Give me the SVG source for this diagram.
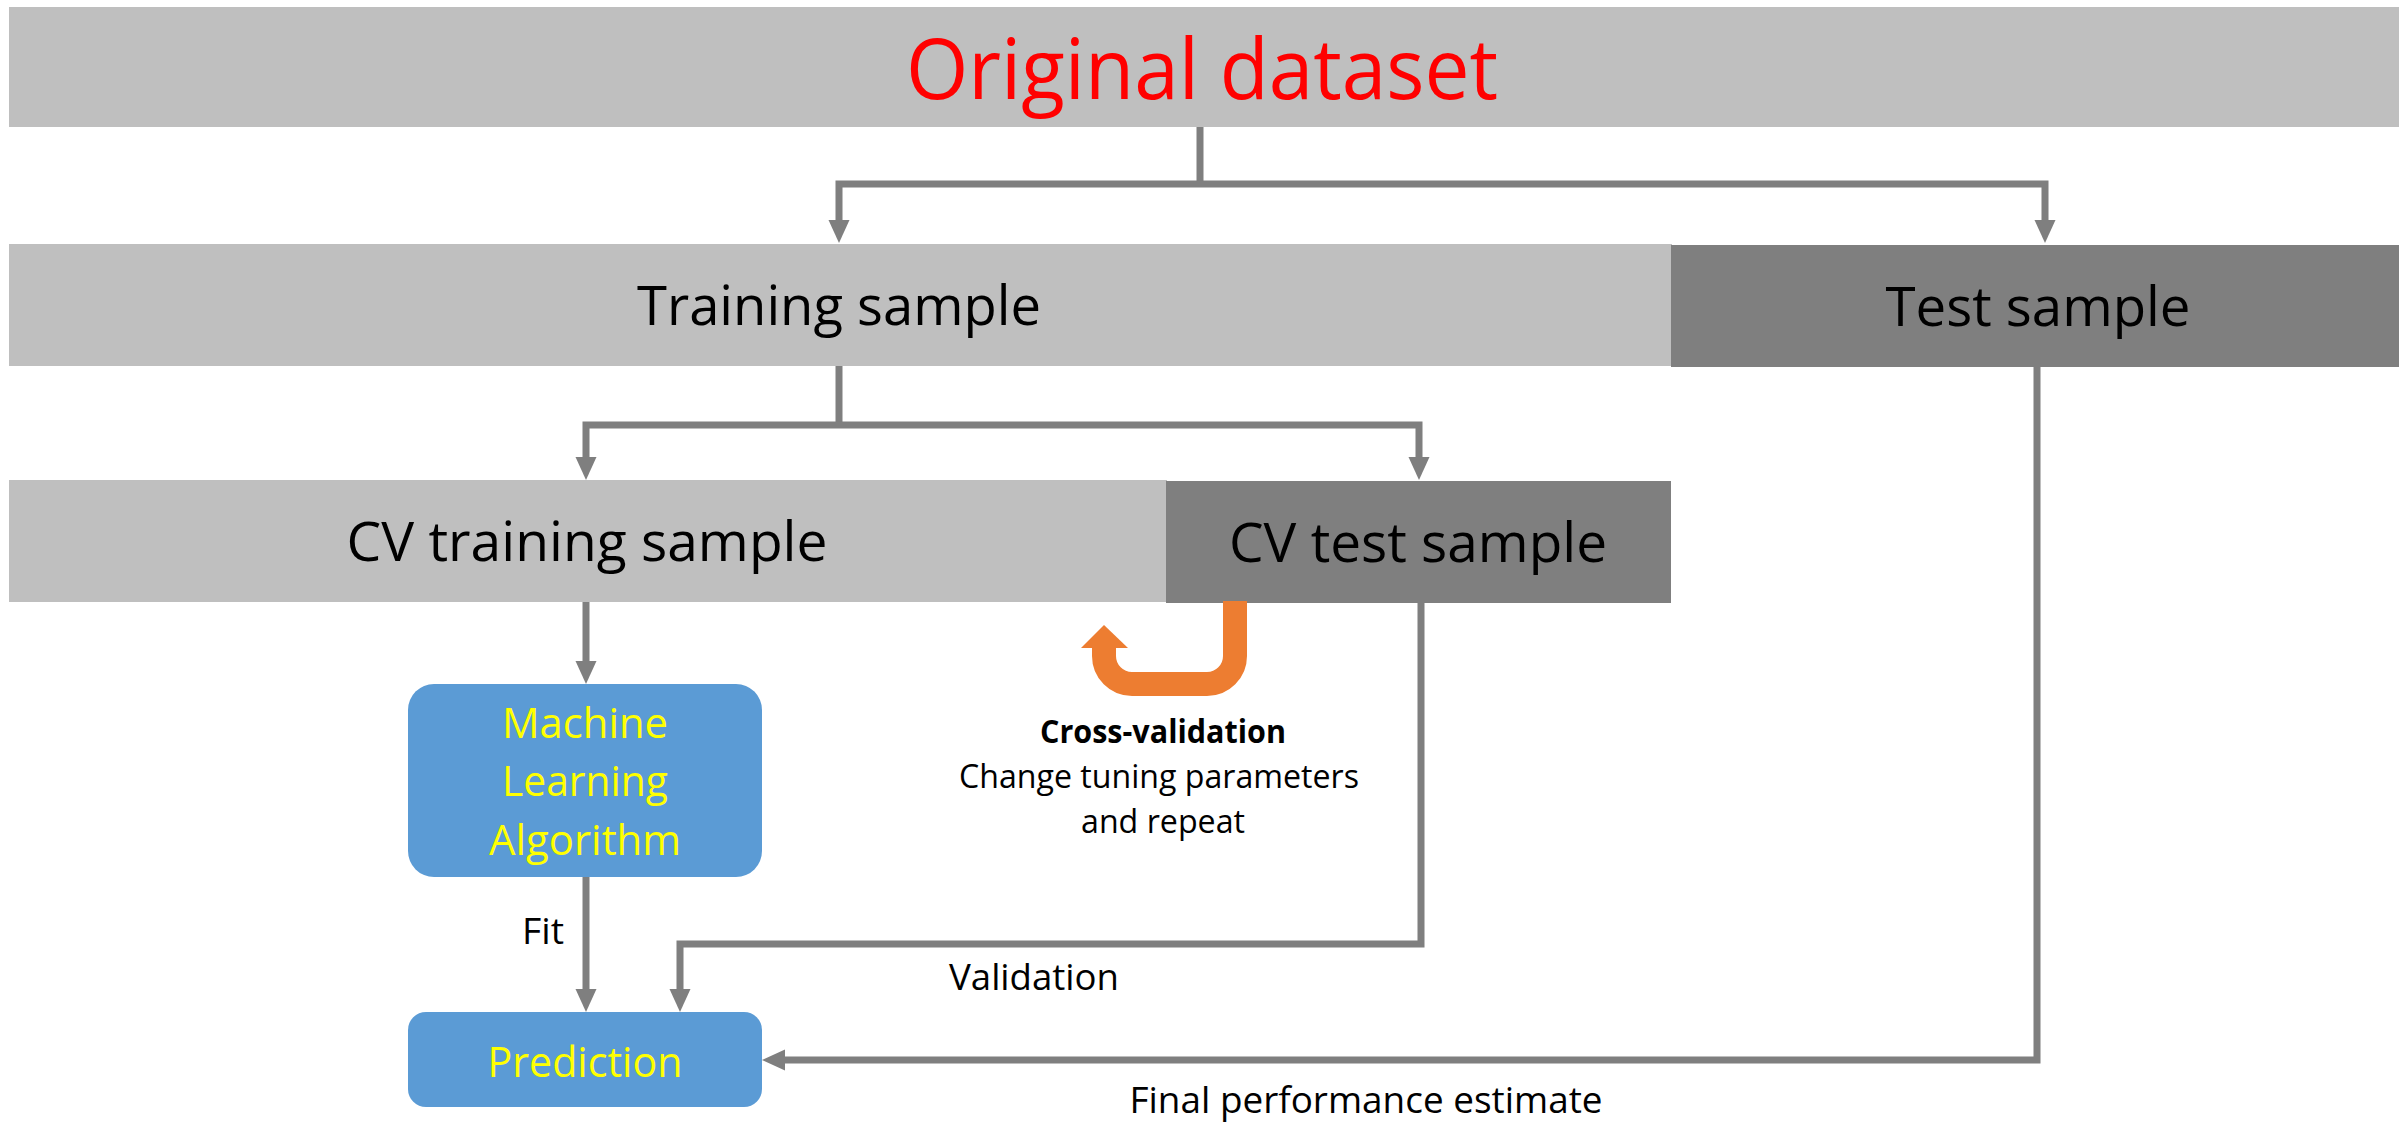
<svg xmlns="http://www.w3.org/2000/svg" width="2407" height="1122" viewBox="0 0 2407 1122">
<style>
  text { font-family: "Open Sans", "Noto Sans", "Liberation Sans", sans-serif; text-anchor: middle; }
  .light { fill: #BFBFBF; }
  .dark { fill: #7F7F7F; }
  .blue { fill: #5B9BD5; }
  .big { font-size: 55px; fill: #000000; }
  .ml { font-size: 42px; fill: #FFFF00; }
  .lbl { font-size: 36px; fill: #000000; }
  .cv { font-size: 32px; fill: #000000; }
  .conn { fill: none; stroke: #7F7F7F; stroke-width: 7; stroke-linejoin: miter; }
</style>
<defs>
  <marker id="arr" markerUnits="userSpaceOnUse" markerWidth="24" markerHeight="22" refX="13" refY="10.5" orient="auto-start-reverse" viewBox="0 0 24 22">
    <path d="M0,0 L23,10.5 L0,21 z" fill="#7F7F7F"/>
  </marker>
</defs>
<rect width="2407" height="1122" fill="#FFFFFF"/>

<g id="original-dataset">
  <rect class="light" x="9" y="7" width="2390" height="120"/>
  <text x="1202" y="99" font-size="84" fill="#FF0000" textLength="592" lengthAdjust="spacingAndGlyphs">Original dataset</text>
</g>

<g id="training-sample">
  <rect class="light" x="9" y="244" width="1663" height="122"/>
  <text class="big" x="839" y="325" textLength="404" lengthAdjust="spacingAndGlyphs">Training sample</text>
</g>

<g id="test-sample">
  <rect class="dark" x="1671" y="245" width="728" height="122"/>
  <text class="big" x="2038" y="326" textLength="305" lengthAdjust="spacingAndGlyphs">Test sample</text>
</g>

<g id="cv-training-sample">
  <rect class="light" x="9" y="480" width="1158" height="122"/>
  <text class="big" x="587" y="561" textLength="481" lengthAdjust="spacingAndGlyphs">CV training sample</text>
</g>

<g id="cv-test-sample">
  <rect class="dark" x="1166" y="481" width="505" height="122"/>
  <text class="big" x="1418" y="562" textLength="378" lengthAdjust="spacingAndGlyphs">CV test sample</text>
</g>

<g id="ml-algorithm">
  <rect class="blue" x="408" y="684" width="354" height="193" rx="26" ry="26"/>
  <text class="ml" x="585" y="738" textLength="166" lengthAdjust="spacingAndGlyphs">Machine</text>
  <text class="ml" x="585" y="796" textLength="166" lengthAdjust="spacingAndGlyphs">Learning</text>
  <text class="ml" x="585" y="855" textLength="192" lengthAdjust="spacingAndGlyphs">Algorithm</text>
</g>

<g id="prediction">
  <rect class="blue" x="408" y="1012" width="354" height="95" rx="18" ry="18"/>
  <text class="ml" x="585" y="1077" textLength="195" lengthAdjust="spacingAndGlyphs">Prediction</text>
</g>

<g id="cross-validation">
  <path d="M1235 601 V656 A28 28 0 0 1 1207 684 H1132 A28 28 0 0 1 1104 656 V646" fill="none" stroke="#ED7D31" stroke-width="24"/>
  <polygon points="1081,648 1128,648 1104,625" fill="#ED7D31"/>
  <text class="cv" x="1163" y="743" font-weight="bold" textLength="246" lengthAdjust="spacingAndGlyphs">Cross-validation</text>
  <text class="cv" x="1159" y="788" textLength="400" lengthAdjust="spacingAndGlyphs">Change tuning parameters</text>
  <text class="cv" x="1163" y="833" textLength="164" lengthAdjust="spacingAndGlyphs">and repeat</text>
</g>

<g id="connectors">
  <path class="conn" d="M1200 127 V184"/>
  <path class="conn" d="M839 233 V184 H2045 V233" marker-start="url(#arr)" marker-end="url(#arr)"/>
  <path class="conn" d="M839 366 V425"/>
  <path class="conn" d="M586 470 V425 H1419 V470" marker-start="url(#arr)" marker-end="url(#arr)"/>
  <path class="conn" d="M586 602 V674" marker-end="url(#arr)"/>
  <path class="conn" d="M586 877 V1002" marker-end="url(#arr)"/>
  <path class="conn" d="M1421 603 V944 H680 V1002" marker-end="url(#arr)"/>
  <path class="conn" d="M2037 367 V1060 H772" marker-end="url(#arr)"/>
  <text class="lbl" x="543" y="944" textLength="42" lengthAdjust="spacingAndGlyphs">Fit</text>
  <text class="lbl" x="1034" y="990" textLength="170" lengthAdjust="spacingAndGlyphs">Validation</text>
  <text class="lbl" x="1366" y="1113" textLength="473" lengthAdjust="spacingAndGlyphs">Final performance estimate</text>
</g>
</svg>
